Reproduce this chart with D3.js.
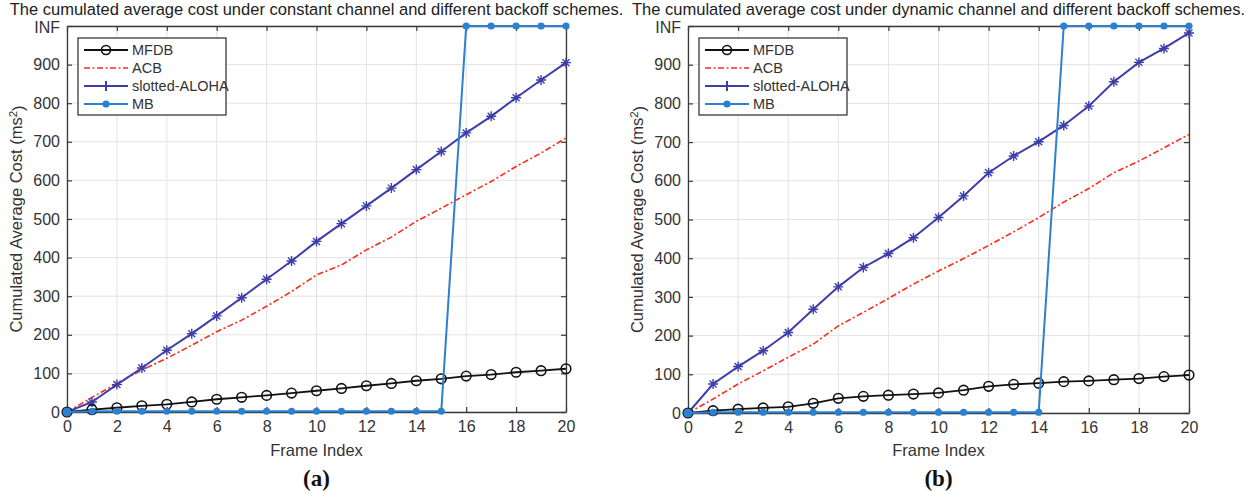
<!DOCTYPE html>
<html><head><meta charset="utf-8">
<script src="https://cdn.jsdelivr.net/npm/d3@7"></script>
<style>body{margin:0;background:#fff}svg{display:block}</style>
</head><body><svg id="c" width="1251" height="494"></svg>
<script>
const frames = [0,1,2,3,4,5,6,7,8,9,10,11,12,13,14,15,16,17,18,19,20];
const xTicks = [0,2,4,6,8,10,12,14,16,18,20];
const yTicks = [0,100,200,300,400,500,600,700,800,900,1000];
const yTickLabels = ["0","100","200","300","400","500","600","700","800","900","INF"];
const INF = 1000;
const seriesNames = ["MFDB","ACB","slotted-ALOHA","MB"];

// (a) constant channel
const mfdbA = [0,6,11,16,20,26,33,38,43,49,55,61,68,74,81,86,93,97,103,107,112];
const acbA = [0,38,74,109,139,173,208,238,274,312,355,381,420,453,494,528,563,597,636,671,710];
const alohaA = [0,26,71,114,160,203,249,296,344,391,442,488,534,580,628,675,723,766,814,860,905];
const mbA = [0,2,2,2,2,2,2,2,2,2,2,2,2,2,2,2,INF,INF,INF,INF,INF];

// (b) dynamic channel
const mfdbB = [0,6,10,13,16,25,38,43,46,49,52,59,69,74,77,81,83,86,89,94,98];
const acbB = [0,36,75,109,144,178,225,260,296,333,367,399,433,468,505,545,580,621,651,685,720];
const alohaB = [0,75,120,161,208,268,326,376,412,453,505,561,621,664,701,743,793,856,906,942,982];
const mbB = [0,2,2,2,2,2,2,2,2,2,2,2,2,2,2,INF,INF,INF,INF,INF,INF];

const titles = ["The cumulated average cost under constant channel and different backoff schemes.",
                "The cumulated average cost under dynamic channel and different backoff schemes."];
const panelLabels = ["(a)","(b)"];
const xLabel = "Frame Index";

const colors = {MFDB:"#111111", ACB:"#ff2a1a", "slotted-ALOHA":"#3e3eaa", MB:"#2b80d0"};
const svg = d3.select("#c");
const FONT = "Liberation Sans, Arial, sans-serif";

function fitText(t, target){
  let fs = parseFloat(t.attr("font-size"));
  const w = t.node().getComputedTextLength();
  t.attr("font-size", (fs*target/w).toFixed(2));
}

function panel(i, box, series){
  const g = svg.append("g");
  const x = d3.scaleLinear().domain([0,20]).range([box.l, box.r]);
  const y = d3.scaleLinear().domain([0,INF]).range([box.b, box.t]);
  // grid
  g.selectAll(null).data(xTicks).enter().append("line")
    .attr("x1",d=>x(d)).attr("x2",d=>x(d)).attr("y1",box.t).attr("y2",box.b)
    .attr("stroke","#e3e3e3").attr("stroke-width",1);
  g.selectAll(null).data(yTicks).enter().append("line")
    .attr("y1",d=>y(d)).attr("y2",d=>y(d)).attr("x1",box.l).attr("x2",box.r)
    .attr("stroke","#e3e3e3").attr("stroke-width",1);
  // axes (inward ticks, box)
  const axC = "#3a3a3a";
  const ax = g.append("g").attr("transform",`translate(0,${box.b})`)
    .call(d3.axisBottom(x).tickValues(xTicks).tickSizeInner(-5).tickSizeOuter(0).tickPadding(9));
  const axT = g.append("g").attr("transform",`translate(0,${box.t})`)
    .call(d3.axisTop(x).tickValues(xTicks).tickSizeInner(-5).tickSizeOuter(0).tickFormat(""));
  const ay = g.append("g").attr("transform",`translate(${box.l},0)`)
    .call(d3.axisLeft(y).tickValues(yTicks).tickSizeInner(-5).tickSizeOuter(0).tickPadding(7)
      .tickFormat((d,k)=>yTickLabels[k]));
  const ayR = g.append("g").attr("transform",`translate(${box.r},0)`)
    .call(d3.axisRight(y).tickValues(yTicks).tickSizeInner(-5).tickSizeOuter(0).tickFormat(""));
  [ax,axT,ay,ayR].forEach(a=>{
    a.select(".domain").attr("stroke",axC).attr("stroke-width",1.3);
    a.selectAll(".tick line").attr("stroke",axC).attr("stroke-width",1.2);
    a.selectAll("text").attr("font-family",FONT).attr("font-size",16).attr("fill","#333");
  });
  ay.selectAll("text").filter((d)=>d===INF).attr("dy","0.42em");

  const line = d3.line().x((d,k)=>x(frames[k])).y(d=>y(d));
  const [mfdb, acb, aloha, mb] = series;
  // ACB
  g.append("path").attr("d",line(acb)).attr("fill","none").attr("stroke",colors.ACB)
    .attr("stroke-width",1.6).attr("stroke-dasharray","6,2.5,2,2.5");
  // slotted-ALOHA
  g.append("path").attr("d",line(aloha)).attr("fill","none").attr("stroke",colors["slotted-ALOHA"]).attr("stroke-width",2);
  aloha.forEach((v,k)=>{ star(g, x(frames[k]), y(v), colors["slotted-ALOHA"]); });
  // MFDB
  g.append("path").attr("d",line(mfdb)).attr("fill","none").attr("stroke",colors.MFDB).attr("stroke-width",1.8);
  g.selectAll(null).data(mfdb).enter().append("circle")
    .attr("cx",(d,k)=>x(frames[k])).attr("cy",d=>y(d)).attr("r",4.8)
    .attr("fill","none").attr("stroke",colors.MFDB).attr("stroke-width",1.6);
  // MB
  g.append("path").attr("d",line(mb)).attr("fill","none").attr("stroke",colors.MB).attr("stroke-width",2);
  g.selectAll(null).data(mb).enter().append("circle")
    .attr("cx",(d,k)=>x(frames[k])).attr("cy",d=>y(d)).attr("r",3.6).attr("fill",colors.MB);
  g.append("circle").attr("cx",x(0)).attr("cy",y(0)).attr("r",4.5).attr("fill",colors.MB);

  // legend
  const lg = g.append("g");
  const lx = box.l + 11, ly = box.t + 12;
  lg.append("rect").attr("x",lx).attr("y",ly).attr("width",148).attr("height",77)
    .attr("fill","#fff").attr("stroke","#3a3a3a").attr("stroke-width",1.3);
  seriesNames.forEach((n,k)=>{
    const yy = ly + 12 + k*18;
    const ln = lg.append("line").attr("x1",lx+6).attr("x2",lx+50).attr("y1",yy).attr("y2",yy)
      .attr("stroke",colors[n]).attr("stroke-width", n==="ACB"?1.6:2);
    if(n==="ACB") ln.attr("stroke-dasharray","6,2.5,2,2.5");
    const cx = lx+28;
    if(n==="MFDB") lg.append("circle").attr("cx",cx).attr("cy",yy).attr("r",4.5).attr("fill","none").attr("stroke",colors[n]).attr("stroke-width",1.6);
    if(n==="slotted-ALOHA") lg.append("line").attr("x1",cx).attr("x2",cx).attr("y1",yy-5).attr("y2",yy+5).attr("stroke",colors[n]).attr("stroke-width",2);
    if(n==="MB") lg.append("circle").attr("cx",cx).attr("cy",yy).attr("r",3.6).attr("fill",colors[n]);
    const tx = lg.append("text").attr("x",lx+54).attr("y",yy).attr("dy","0.35em")
      .attr("font-family",FONT).attr("font-size",14.5).attr("fill","#333").text(n);
  });

  // title
  const cxm = (box.l+box.r)/2;
  const tt = svg.append("text").attr("x",cxm).attr("y",15).attr("text-anchor","middle")
    .attr("font-family",FONT).attr("font-size",15).attr("fill","#222").text(titles[i]);
  fitText(tt, 614);
  // x label
  svg.append("text").attr("x",cxm).attr("y",456).attr("text-anchor","middle")
    .attr("font-family",FONT).attr("font-size",16.5).attr("fill","#333").text(xLabel);
  // y label
  const yl = svg.append("text").attr("transform",`translate(${box.l-45},${(box.t+box.b)/2}) rotate(-90)`)
    .attr("text-anchor","middle").attr("font-family",FONT).attr("font-size",16.5).attr("fill","#333");
  yl.append("tspan").text("Cumulated Average Cost (ms");
  yl.append("tspan").attr("dy","-0.45em").attr("font-size","0.7em").text("2");
  yl.append("tspan").attr("dy","0.45em").text(")");
  // panel label
  svg.append("text").attr("x",cxm).attr("y",486).attr("text-anchor","middle")
    .attr("font-family","Liberation Serif, Times New Roman, serif").attr("font-weight","bold")
    .attr("font-size",23).attr("fill","#111").text(panelLabels[i]);
}

function star(g, cx, cy, c){
  const s = 5;
  g.append("path").attr("d",`M${cx-s},${cy}H${cx+s}M${cx},${cy-s}V${cy+s}M${cx-s*0.7},${cy-s*0.7}L${cx+s*0.7},${cy+s*0.7}M${cx-s*0.7},${cy+s*0.7}L${cx+s*0.7},${cy-s*0.7}`)
    .attr("stroke",c).attr("stroke-width",1.4).attr("fill","none");
}

panel(0, {l:67, r:566, t:26, b:412}, [mfdbA, acbA, alohaA, mbA]);
panel(1, {l:688, r:1189, t:26, b:413}, [mfdbB, acbB, alohaB, mbB]);
</script></body></html>
